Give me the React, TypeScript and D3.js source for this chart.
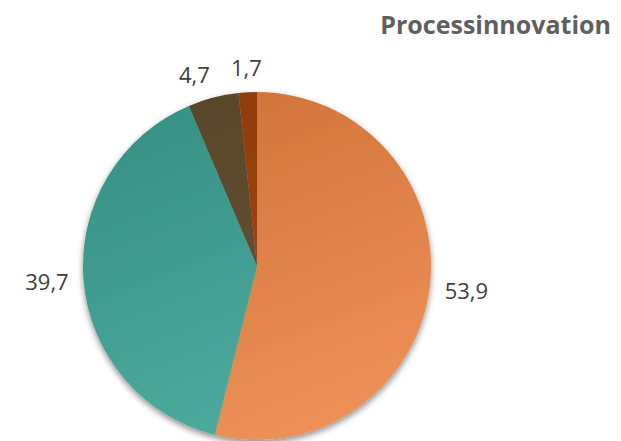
import React from 'react';
import * as d3 from 'd3';

const categories = ['A', 'B', 'C', 'D'];
const values = [53.9, 39.7, 4.7, 1.7];
const colorsTop = ['#d0733a', '#379085', '#574629', '#8f3b0c'];
const colorsBottom = ['#ef9259', '#4faea1', '#6a5538', '#a64c1b'];

const title = 'Processinnovation';

const width = 621;
const height = 441;
const cx = 257;
const cy = 266;
const radius = 174;

const fmt = (v: number) => d3.format('.1f')(v).replace('.', ',');

const App: React.FC = () => {
  const pie = d3.pie<number>().sort(null).value((d) => d);
  const arcs = pie(values);
  const arc = d3.arc<d3.PieArcDatum<number>>().innerRadius(0).outerRadius(radius);

  const fontSize = 22;
  const charW = fontSize * 0.48;
  const textH = 17;

  return (
    <svg
      width={width}
      height={height}
      style={{ position: 'absolute', left: 0, top: 0, background: '#fff' }}
      fontFamily="'Open Sans', sans-serif"
    >
      <defs>
        {categories.map((c, i) => (
          <linearGradient
            key={c}
            id={`grad-${i}`}
            gradientUnits="userSpaceOnUse"
            x1={-radius * 0.4}
            y1={-radius}
            x2={radius * 0.4}
            y2={radius}
          >
            <stop offset="0%" stopColor={colorsTop[i]} />
            <stop offset="100%" stopColor={colorsBottom[i]} />
          </linearGradient>
        ))}
        <filter id="shadow" x="-20%" y="-20%" width="140%" height="140%">
          <feDropShadow dx="0" dy="3" stdDeviation="3" floodColor="#000" floodOpacity="0.45" />
        </filter>
      </defs>

      <text x={611} y={34} textAnchor="end" fontSize={25} fontWeight="bold" fill="#5f5f5f">
        {title}
      </text>

      <g transform={`translate(${cx},${cy})`}>
        <g filter="url(#shadow)">
          {arcs.map((a, i) => (
            <path key={categories[i]} d={arc(a) || ''} fill={`url(#grad-${i})`} />
          ))}
        </g>
        {arcs.map((a, i) => {
          const mid = (a.startAngle + a.endAngle) / 2;
          const s = Math.sin(mid);
          const c = Math.cos(mid);
          const label = fmt(values[i]);
          const w = label.length * charW;
          const dist = radius + 15 + (Math.abs(s) * w) / 2 + (Math.abs(c) * textH) / 2;
          // the 4,7 label is nudged left so it clears its tiny neighbour
          const nudgeX = i === 2 ? -12 : 0;
          const nudgeY = i === 2 ? 4 : 0;
          return (
            <text
              key={categories[i]}
              x={dist * s + nudgeX}
              y={-dist * c + nudgeY}
              dy="0.35em"
              textAnchor="middle"
              fontSize={fontSize}
              fill="#404040"
            >
              {label}
            </text>
          );
        })}
      </g>
    </svg>
  );
};

export default App;
